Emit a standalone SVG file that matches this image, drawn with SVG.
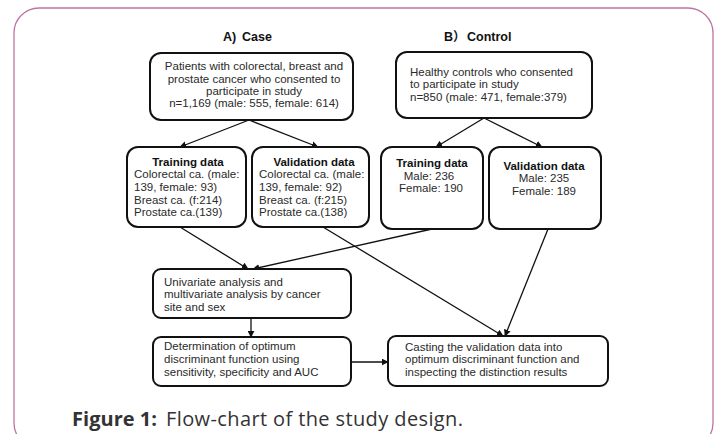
<svg xmlns="http://www.w3.org/2000/svg" width="719" height="434" viewBox="0 0 719 434">
<style>
.frame{fill:none;stroke:#bd74a3;stroke-width:1.3}
.box{fill:#fff;stroke:#111;stroke-width:2}
.t{font-family:"Liberation Sans",Arial,sans-serif;font-size:11.5px;fill:#2a2a2a}
.c{text-anchor:middle}
.b{font-weight:bold;fill:#111}
.h{font-family:"Liberation Sans",Arial,"Noto Sans CJK JP",sans-serif;font-size:12.5px;font-weight:bold;fill:#111}
.cap{font-family:"Open Sans","Liberation Sans",sans-serif;font-size:20px;fill:#333}
.ln{fill:none;stroke:#111;stroke-width:1.3;marker-end:url(#ah)}
</style>
<defs>
<marker id="ah" viewBox="0 0 10 10" refX="9" refY="5" markerWidth="7" markerHeight="7" markerUnits="userSpaceOnUse" orient="auto">
<path d="M0,0 L10,5 L0,10 z" fill="#111"/>
</marker>
</defs>
<rect width="719" height="434" fill="#fff"/>
<rect class="frame" x="14" y="8" width="699" height="440" rx="25"/>

<text class="h" x="223" y="41">A)<tspan x="242">Case</tspan></text>
<text class="h" x="444" y="41">B）<tspan x="467">Control</tspan></text>

<g id="connectors">
<line class="ln" x1="249" y1="120" x2="180" y2="147"/>
<line class="ln" x1="249" y1="120" x2="318" y2="147"/>
<line class="ln" x1="484" y1="118" x2="436" y2="147"/>
<line class="ln" x1="484" y1="118" x2="542" y2="147"/>
<line class="ln" x1="180" y1="227" x2="248" y2="269"/>
<line class="ln" x1="432" y1="229" x2="253" y2="269"/>
<line class="ln" x1="323" y1="227" x2="503" y2="336"/>
<line class="ln" x1="548" y1="229" x2="505" y2="336"/>
<line class="ln" x1="251" y1="318" x2="251" y2="337"/>
<line class="ln" x1="351" y1="362" x2="388" y2="362"/>
</g>

<g id="case-all">
<rect class="box" x="150" y="53" width="203" height="67" rx="11"/>
<text class="t c" x="254" y="70">Patients with colorectal, breast and</text>
<text class="t c" x="254" y="83">prostate cancer who consented to</text>
<text class="t c" x="254" y="95">participate in study</text>
<text class="t c" x="254" y="107">n=1,169 (male: 555, female: 614)</text>
</g>

<g id="case-training">
<rect class="box" x="127" y="147" width="119" height="80" rx="11"/>
<text class="t c b" x="188" y="166">Training data</text>
<text class="t" x="134" y="178">Colorectal ca. (male:</text>
<text class="t" x="134" y="191">139, female: 93)</text>
<text class="t" x="134" y="204">Breast ca. (f:214)</text>
<text class="t" x="134" y="216">Prostate ca.(139)</text>
</g>

<g id="case-validation">
<rect class="box" x="252" y="147" width="117" height="80" rx="11"/>
<text class="t c b" x="314" y="166">Validation data</text>
<text class="t" x="259" y="178">Colorectal ca. (male:</text>
<text class="t" x="259" y="191">139, female: 92)</text>
<text class="t" x="259" y="204">Breast ca. (f:215)</text>
<text class="t" x="259" y="216">Prostate ca.(138)</text>
</g>

<g id="control-all">
<rect class="box" x="396" y="52" width="196" height="66" rx="11"/>
<text class="t" x="410" y="76">Healthy controls who consented</text>
<text class="t" x="410" y="88">to participate in study</text>
<text class="t" x="410" y="101">n=850 (male: 471, female:379)</text>
</g>

<g id="control-training">
<rect class="box" x="381" y="147" width="102" height="82" rx="11"/>
<text class="t c b" x="432" y="167">Training data</text>
<text class="t c" x="429" y="180">Male: 236</text>
<text class="t c" x="431" y="192">Female: 190</text>
</g>

<g id="control-validation">
<rect class="box" x="489" y="147" width="112" height="82" rx="11"/>
<text class="t c b" x="544" y="170">Validation data</text>
<text class="t c" x="544" y="182">Male: 235</text>
<text class="t c" x="544" y="195">Female: 189</text>
</g>

<g id="univariate">
<rect class="box" x="153" y="269" width="198" height="49" rx="8"/>
<text class="t" x="164" y="286">Univariate analysis and</text>
<text class="t" x="164" y="298">multivariate analysis by cancer</text>
<text class="t" x="164" y="311">site and sex</text>
</g>

<g id="determination">
<rect class="box" x="153" y="337" width="198" height="49" rx="8"/>
<text class="t" x="164" y="350">Determination of optimum</text>
<text class="t" x="164" y="363">discriminant function using</text>
<text class="t" x="164" y="376">sensitivity, specificity and AUC</text>
</g>

<g id="casting">
<rect class="box" x="388" y="336" width="220" height="50" rx="8"/>
<text class="t" x="405" y="351">Casting the validation data into</text>
<text class="t" x="405" y="363">optimum discriminant function and</text>
<text class="t" x="405" y="376">inspecting the distinction results</text>
</g>

<text class="cap" x="72" y="426" font-weight="bold" textLength="85" lengthAdjust="spacing">Figure 1:</text>
<text class="cap" x="166" y="426" textLength="297" lengthAdjust="spacing">Flow-chart of the study design.</text>
</svg>
